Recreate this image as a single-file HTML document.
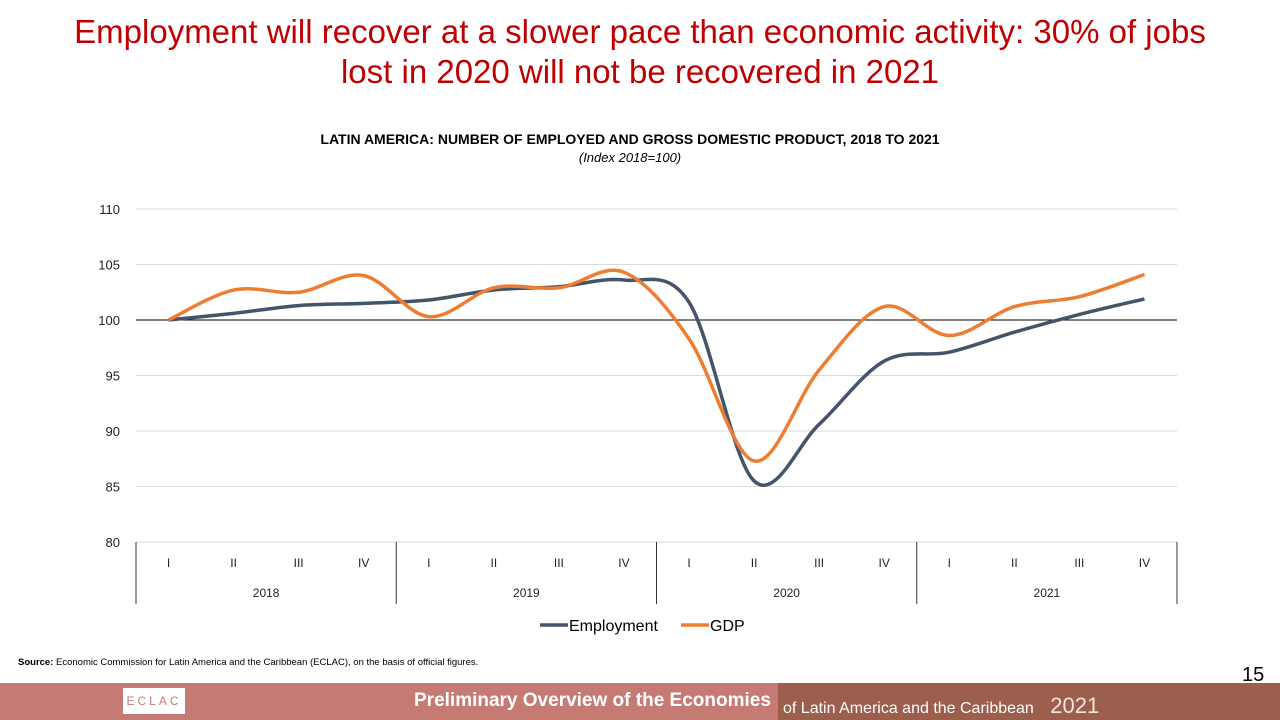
<!DOCTYPE html>
<html><head><meta charset="utf-8"><style>
body{margin:0;width:1280px;height:720px;background:#fff;position:relative;overflow:hidden;font-family:"Liberation Sans",sans-serif}
.t{position:absolute;left:0;width:1280px;top:12px;text-align:center;color:#c00000;font-size:33px;line-height:40px;font-family:"Liberation Sans",sans-serif}
</style></head><body>
<div class="t">Employment will recover at a slower pace than economic activity: 30% of jobs<br>lost in 2020 will not be recovered in 2021</div>
<svg id="c" width="1280" height="720" style="position:absolute;left:0;top:0"></svg>
<div style="position:absolute;left:0;top:683px;width:778px;height:37px;background:#c57b74"></div>
<div style="position:absolute;left:778px;top:683px;width:502px;height:37px;background:#9c5e4d"></div>
<div style="position:absolute;left:123px;top:688px;width:62px;height:26px;background:#fff;color:#c57b74;font-size:12px;letter-spacing:3px;text-align:center;line-height:26px;overflow:hidden">ECLAC</div>
<div style="position:absolute;left:414px;top:690px;color:#fff;font-size:19px;font-weight:bold">Preliminary Overview of the Economies</div>
<div style="position:absolute;left:783px;top:693px;color:#fff;font-size:16px">of Latin America and the Caribbean <span style="font-size:22px;margin-left:12px;color:#f3e6e2">2021</span></div>
<div style="position:absolute;left:1242px;top:664px;font-size:20px">15</div>
<script>
const quarters=["I","II","III","IV","I","II","III","IV","I","II","III","IV","I","II","III","IV"];
const years=["2018","2019","2020","2021"];
const employment=[100,100.6,101.3,101.5,101.8,102.7,103,103.6,101.6,85.5,90.6,96.3,97.1,98.9,100.5,101.9];
const gdp=[100,102.7,102.5,104,100.3,102.9,102.9,104.3,98.3,87.3,95.5,101.2,98.6,101.2,102.1,104.1];
const yTicks=[80,85,90,95,100,105,110];
const s=document.getElementById('c');const NS="http://www.w3.org/2000/svg";
function el(t,a,txt){const e=document.createElementNS(NS,t);for(const k in a)e.setAttribute(k,a[k]);if(txt!=null)e.textContent=txt;s.appendChild(e);return e;}
const X0=136,X1=1177,Y0=542,Y1=209;
const bw=(X1-X0)/quarters.length;
const xs=i=>X0+bw*(i+0.5);
const ys=v=>Y0-(v-80)/(110-80)*(Y0-Y1);
let t=el('text',{x:630,y:144,'text-anchor':'middle','font-size':14,'font-weight':'bold'},'LATIN AMERICA: NUMBER OF EMPLOYED AND GROSS DOMESTIC PRODUCT, 2018 TO 2021');

t=el('text',{x:630,y:162,'text-anchor':'middle','font-size':13,'font-style':'italic'},'(Index 2018=100)');

yTicks.forEach(v=>{
 const g=el('line',{x1:X0,x2:X1,y1:ys(v),y2:ys(v),stroke:v==100?'#000':'#d9d9d9','stroke-width':1});
 
 const l=el('text',{x:120,y:ys(v)+5,'text-anchor':'end','font-size':13,fill:'#222'},v);
 
});
quarters.forEach((q,i)=>{
 const l=el('text',{x:xs(i),y:567,'text-anchor':'middle','font-size':12,fill:'#222'},q);
 
});
for(let k=0;k<=years.length;k++){
 const x=X0+bw*4*k;
 const d=el('line',{x1:x,x2:x,y1:Y0,y2:604,stroke:'#333','stroke-width':1});
 
}
years.forEach((y,k)=>{
 const l=el('text',{x:X0+bw*(4*k+2),y:597,'text-anchor':'middle','font-size':12,fill:'#222'},y);
 
});
function path(vals){
 const p=vals.map((v,i)=>[xs(i),ys(v)]);let d=`M${p[0][0]},${p[0][1]}`;
 for(let i=0;i<p.length-1;i++){const a=p[Math.max(0,i-1)],b=p[i],c=p[i+1],e=p[Math.min(p.length-1,i+2)];
  const k=1/6;d+=` C${b[0]+(c[0]-a[0])*k},${b[1]+(c[1]-a[1])*k} ${c[0]-(e[0]-b[0])*k},${c[1]-(e[1]-b[1])*k} ${c[0]},${c[1]}`;}
 return d;}
let ln=el('path',{d:path(employment),fill:'none',stroke:'#44546a','stroke-width':3.5});

ln=el('path',{d:path(gdp),fill:'none',stroke:'#ed7d31','stroke-width':3.5});

let lg=el('line',{x1:540,x2:568,y1:625,y2:625,stroke:'#44546a','stroke-width':3.5});

lg=el('text',{x:569,y:631,'font-size':16},'Employment');

lg=el('line',{x1:681,x2:709,y1:625,y2:625,stroke:'#ed7d31','stroke-width':3.5});

lg=el('text',{x:710,y:631,'font-size':16},'GDP');

const src=el('text',{x:18,y:665,'font-size':9.5});

src.innerHTML='<tspan font-weight="bold">Source:</tspan> Economic Commission for Latin America and the Caribbean (ECLAC), on the basis of official figures.';
</script>
</body></html>
